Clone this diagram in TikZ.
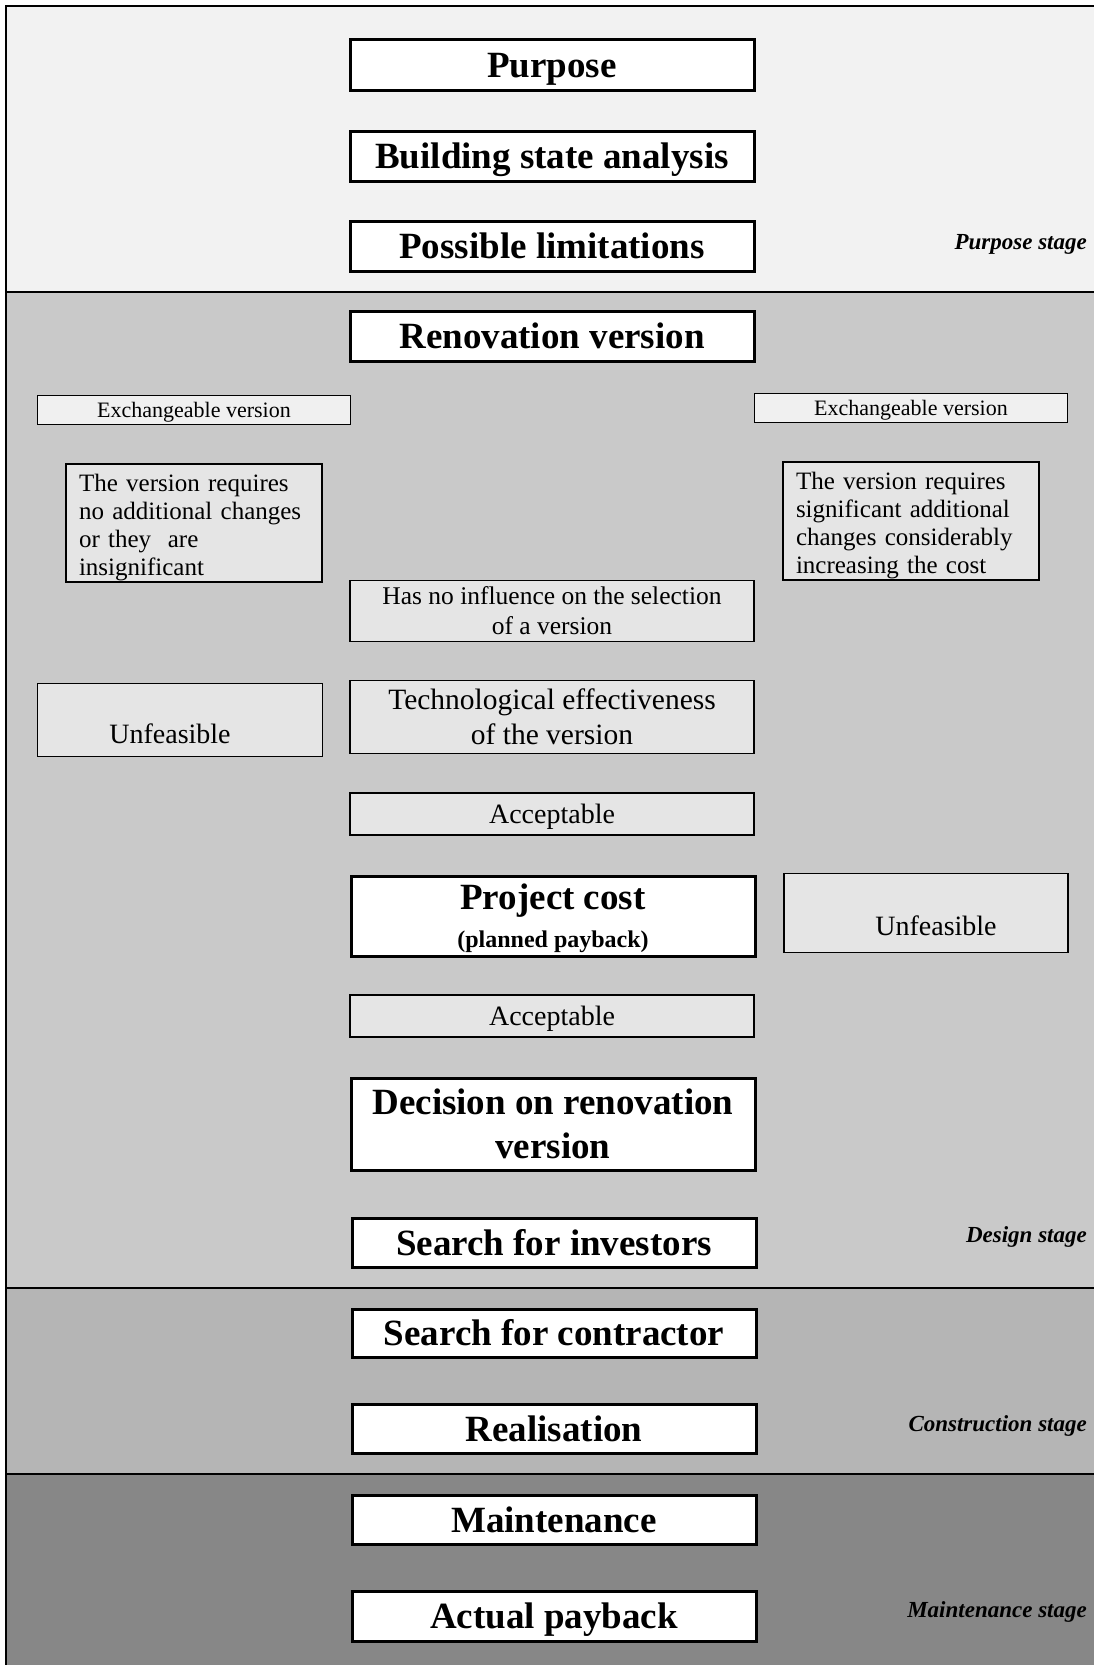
\documentclass[tikz,border=0pt]{standalone}
\usepackage{fontspec}
\setmainfont{Liberation Serif}
\usepackage{xcolor}
\definecolor{purposebg}{gray}{0.95}
\definecolor{designbg}{gray}{0.79}
\definecolor{constrbg}{gray}{0.71}
\definecolor{maintbg}{gray}{0.53}
\definecolor{notefill}{gray}{0.90}

\begin{document}
\begin{tikzpicture}[x=1pt,y=-1pt,
    mainbox/.style={draw,line width=3pt,fill=white,minimum width=404pt,inner sep=0pt,
      align=center,font=\fontsize{37}{44}\selectfont\bfseries},
    headbox/.style={mainbox,text height=25pt,text depth=0pt},
    choicebox/.style={draw,line width=1.8pt,fill=notefill,minimum width=404pt,inner sep=0pt,
      align=center,font=\fontsize{28}{35}\selectfont},
    tagbox/.style={draw,line width=1.8pt,fill=notefill!60!white,minimum width=313pt,
      minimum height=29pt,inner sep=0pt,text height=14pt,text depth=0pt,
      font=\fontsize{22}{26}\selectfont},
    notebox/.style={draw,line width=1.8pt,fill=notefill,text width=230pt,inner xsep=13pt,
      inner ysep=0pt,minimum height=118pt,align=left,font=\fontsize{25}{28}\selectfont,
      execute at begin node=\rule{0pt}{27pt}},
    stagelabel/.style={anchor=east,inner sep=0pt,font=\fontsize{23}{26}\selectfont\bfseries\itshape}]
    \useasboundingbox (0,0) rectangle (1094,1665);

    % Stage bands
    \fill[purposebg] (6,6) rectangle (1094,292);
    \fill[designbg] (6,292) rectangle (1094,1288);
    \fill[constrbg] (6,1288) rectangle (1094,1474);
    \fill[maintbg] (6,1474) rectangle (1094,1665);
    \draw[line width=1.5pt] (6,1665) -- (6,6) -- (1094,6);
    \draw[line width=2pt] (6,292) -- (1094,292);
    \draw[line width=2pt] (6,1288) -- (1094,1288);
    \draw[line width=2pt] (6,1474) -- (1094,1474);

    % Purpose stage
    \node[headbox,minimum height=51pt] (purpose) at (552,65) {Purpose};
    \node[headbox,minimum height=50pt] (analysis) at (552,156) {Building state analysis};
    \node[headbox,minimum height=50pt] (limits) at (552,246) {Possible limitations};
    \node[stagelabel] (purposestage) at (1087,244) {Purpose stage};

    % Design stage
    \node[headbox,minimum height=50pt] (renovation) at (552,336) {Renovation version};
    \node[tagbox] (exchleft) at (194,410) {Exchangeable version};
    \node[tagbox] (exchright) at (911,408) {Exchangeable version};
    \node[notebox] (noteleft) at (194,523) {The version requires\\no additional changes\\or they\ \ are\\insignificant};
    \node[notebox] (noteright) at (911,521) {The version requires\\significant additional\\changes considerably\\increasing the cost};
    \node[choicebox,minimum height=61pt,font=\fontsize{25.5}{30}\selectfont] (noinfluence) at (552,611)
      {Has no influence on the selection\\of a version};
    \node[choicebox,minimum width=285pt,minimum height=73pt] (unfeasleft) at (180,720)
      {\raisebox{-14pt}[\height][\depth]{\makebox[0pt]{\hspace*{-20pt}Unfeasible}}};
    \node[choicebox,minimum height=73pt,font=\fontsize{29.5}{35}\selectfont] (technology) at (552,717)
      {Technological effectiveness\\of the version};
    \node[choicebox,minimum height=42pt,text height=19pt,text depth=0pt] (acceptone) at (552,814) {Acceptable};
    \node[mainbox,minimum height=80pt] (cost) at (553,916)
      {\rule{0pt}{30pt}Project cost\\[-6pt]{\fontsize{24}{28}\selectfont(planned payback)}};
    \node[choicebox,minimum width=284pt,minimum height=79pt] (unfeasright) at (926,913)
      {\raisebox{-13pt}[\height][\depth]{\makebox[0pt]{\hspace*{20pt}Unfeasible}}};
    \node[choicebox,minimum height=42pt,text height=19pt,text depth=0pt] (accepttwo) at (552,1016) {Acceptable};
    \node[mainbox,minimum height=92pt] (decision) at (553,1124) {Decision on renovation\\version};
    \node[headbox,minimum height=49pt] (investors) at (554,1243) {Search for investors};
    \node[stagelabel] (designstage) at (1087,1237) {Design stage};

    % Construction stage
    \node[headbox,minimum height=48pt] (contractor) at (554,1333) {Search for contractor};
    \node[headbox,minimum height=49pt] (realisation) at (554,1429) {Realisation};
    \node[stagelabel] (constrstage) at (1087,1426) {Construction stage};

    % Maintenance stage
    \node[headbox,minimum height=49pt] (maintenance) at (554,1520) {Maintenance};
    \node[headbox,minimum height=50pt] (payback) at (554,1616) {Actual payback};
    \node[stagelabel] (maintstage) at (1087,1612) {Maintenance stage};
\end{tikzpicture}
\end{document}
